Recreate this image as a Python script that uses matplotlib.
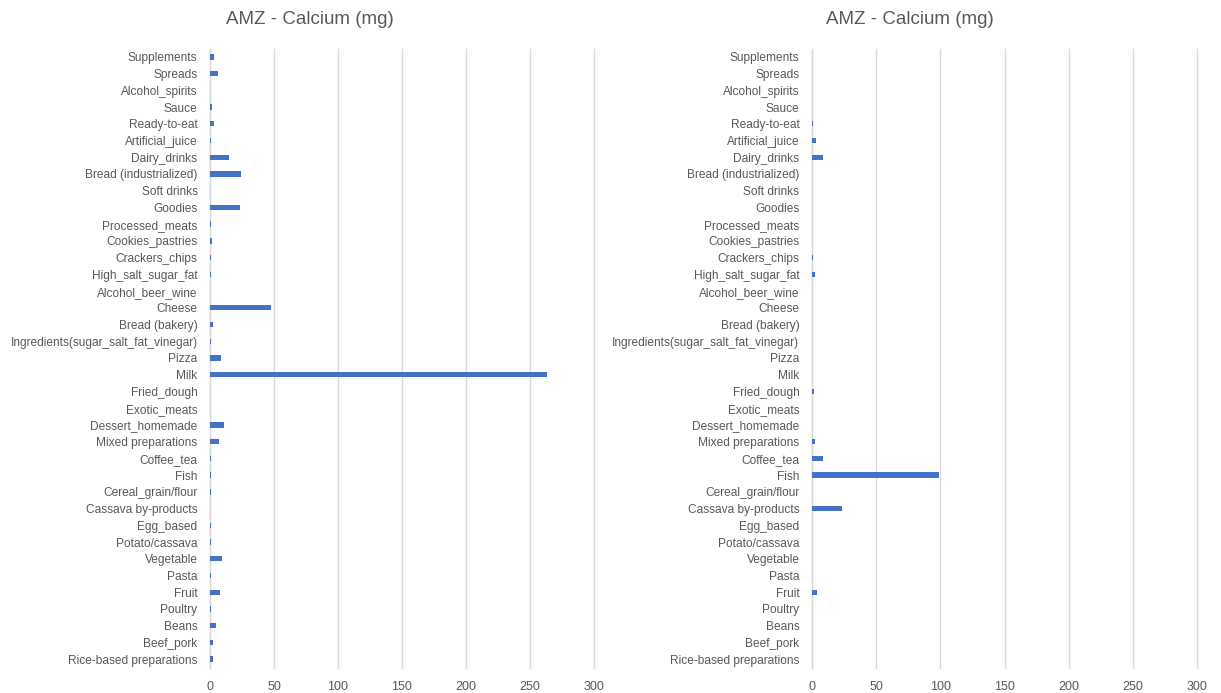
import matplotlib.pyplot as plt

plt.rcParams['font.family'] = ['Liberation Sans', 'DejaVu Sans']

# categories listed bottom to top, as drawn on the y axis
categories = [
    "Rice-based preparations", "Beef_pork", "Beans", "Poultry", "Fruit", "Pasta",
    "Vegetable", "Potato/cassava", "Egg_based", "Cassava by-products",
    "Cereal_grain/flour", "Fish", "Coffee_tea", "Mixed preparations",
    "Dessert_homemade", "Exotic_meats", "Fried_dough", "Milk", "Pizza",
    "Ingredients(sugar_salt_fat_vinegar)", "Bread (bakery)", "Cheese",
    "Alcohol_beer_wine", "High_salt_sugar_fat", "Crackers_chips",
    "Cookies_pastries", "Processed_meats", "Goodies", "Soft drinks",
    "Bread (industrialized)", "Dairy_drinks", "Artificial_juice", "Ready-to-eat",
    "Sauce", "Alcohol_spirits", "Spreads", "Supplements",
]

calcium_left = [
    2.6, 2.1, 4.5, 0.5, 7.9, 0.5,
    9.5, 1.0, 1.0, 0.0,
    0.5, 1.0, 0.5, 7.1,
    11.0, 0.0, 0.0, 263.0, 8.4,
    0.5, 2.6, 47.4,
    0.0, 0.5, 0.5,
    1.6, 0.8, 23.4, 0.0,
    24.0, 15.0, 0.8, 3.2,
    1.6, 0.0, 6.0, 3.2,
]

calcium_right = [
    0.0, 0.0, 0.0, 0.0, 4.2, 0.0,
    0.0, 0.0, 0.0, 23.2,
    0.0, 99.0, 8.3, 2.0,
    0.0, 0.0, 1.5, 0.0, 0.0,
    0.0, 0.0, 0.0,
    0.0, 2.0, 1.0,
    0.0, 0.0, 0.0, 0.0,
    0.0, 8.6, 3.1, 1.0,
    0.0, 0.0, 0.0, 0.0,
]

x_ticks = [0, 50, 100, 150, 200, 250, 300]
title = "AMZ - Calcium (mg)"
bar_color = "#4472C4"
grid_color = "#D9D9D9"
text_color = "#595959"

fig = plt.figure(figsize=(12.21, 6.93), dpi=100)
ax_bottom = 1 - 667.5 / 693
ax_height = 619 / 693
ax1 = fig.add_axes([210 / 1221, ax_bottom, 384 / 1221, ax_height])
ax2 = fig.add_axes([812 / 1221, ax_bottom, 385 / 1221, ax_height])

for ax, values, title_x in [(ax1, calcium_left, 310 / 1221), (ax2, calcium_right, 910 / 1221)]:
    ypos = range(len(categories))
    ax.barh(ypos, values, height=0.32, color=bar_color, zorder=3)
    ax.set_xlim(0, 300)
    ax.set_ylim(-0.5, len(categories) - 0.5)
    ax.set_xticks(x_ticks)
    ax.set_yticks(list(ypos))
    ax.set_yticklabels(categories)
    ax.grid(axis='x', color=grid_color, linewidth=1, zorder=0)
    for line in ax.get_xgridlines():
        line.set_clip_on(False)
    ax.tick_params(length=0, labelsize=8.6, labelcolor=text_color)
    ax.tick_params(axis='y', pad=9)
    ax.tick_params(axis='x', labelsize=9, pad=10)
    for side in ['top', 'right', 'bottom']:
        ax.spines[side].set_visible(False)
    ax.spines['left'].set_color(grid_color)
    ax.spines['left'].set_linewidth(1)
    fig.text(title_x, 1 - 19 / 693, title, ha='center', va='center',
             fontsize=13.5, color=text_color)

fig.savefig("out.png", dpi=100)
